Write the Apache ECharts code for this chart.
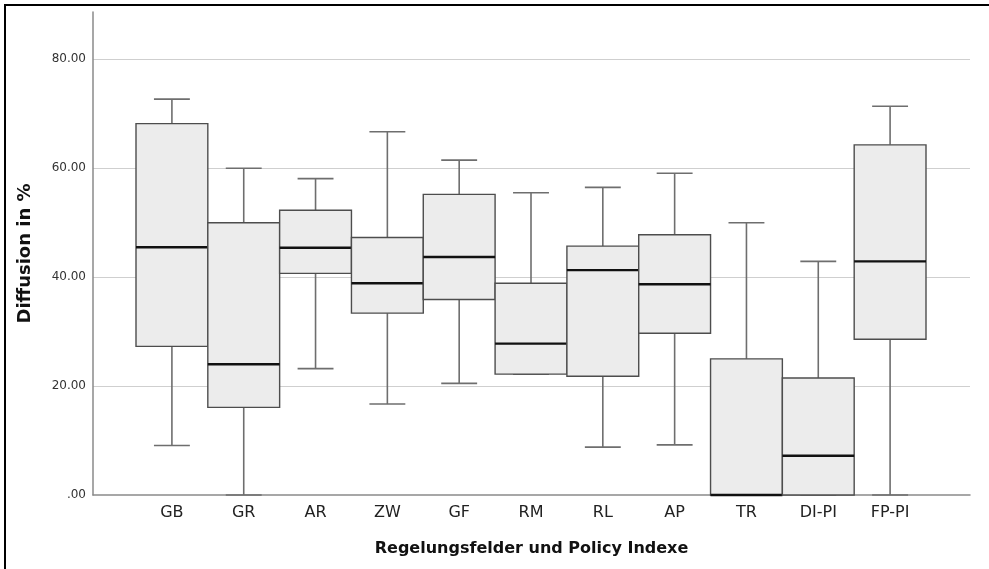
<!DOCTYPE html>
<html>
<head>
<meta charset="utf-8">
<script src="https://cdn.jsdelivr.net/npm/echarts@6/dist/echarts.min.js"></script>
<style>
html,body{margin:0;padding:0;background:#fff;}
#chart{width:989px;height:569px;}
</style>
</head>
<body>
<div id="chart"></div>
<script>
const categories = ['GB','GR','AR','ZW','GF','RM','RL','AP','TR','DI-PI','FP-PI'];
const whiskerLow  = [9.1, 0, 23.2, 16.7, 20.5, 22.2, 8.8, 9.2, 0, 0, 0];
const quartile1   = [27.3, 16.1, 40.7, 33.4, 35.9, 22.2, 21.8, 29.7, 0, 0, 28.6];
const medianVals  = [45.5, 24.0, 45.4, 38.9, 43.7, 27.8, 41.3, 38.7, 0, 7.2, 42.9];
const quartile3   = [68.2, 50.0, 52.3, 47.3, 55.2, 38.9, 45.7, 47.8, 25.0, 21.5, 64.3];
const whiskerHigh = [72.7, 60.0, 58.1, 66.7, 61.5, 55.5, 56.5, 59.1, 50.0, 42.9, 71.4];
const yTicks = [0, 20, 40, 60, 80];

const FONT = 'DejaVu Sans';
const boxData = categories.map((c, i) => [i, whiskerLow[i], quartile1[i], medianVals[i], quartile3[i], whiskerHigh[i]]);

function renderBox(params, api) {
  const i = api.value(0);
  const band = api.size([1, 0])[0];
  const half = band / 2;
  const capHalf = band / 4;
  const pLow = api.coord([i, api.value(1)]);
  const pQ1 = api.coord([i, api.value(2)]);
  const pMed = api.coord([i, api.value(3)]);
  const pQ3 = api.coord([i, api.value(4)]);
  const pHigh = api.coord([i, api.value(5)]);
  const x = pMed[0];
  const whiskerStyle = { stroke: '#6e6e6e', lineWidth: 1.6, fill: null };
  return {
    type: 'group',
    children: [
      { type: 'line', shape: { x1: x, y1: pHigh[1], x2: x, y2: pQ3[1] }, style: whiskerStyle },
      { type: 'line', shape: { x1: x, y1: pQ1[1], x2: x, y2: pLow[1] }, style: whiskerStyle },
      { type: 'line', shape: { x1: x - capHalf, y1: pHigh[1], x2: x + capHalf, y2: pHigh[1] }, style: whiskerStyle },
      { type: 'line', shape: { x1: x - capHalf, y1: pLow[1], x2: x + capHalf, y2: pLow[1] }, style: whiskerStyle },
      { type: 'rect', shape: { x: x - half, y: pQ3[1], width: band, height: pQ1[1] - pQ3[1] },
        style: { fill: '#ececec', stroke: '#4d4d4d', lineWidth: 1.4 } },
      { type: 'line', shape: { x1: x - half, y1: pMed[1], x2: x + half, y2: pMed[1] },
        style: { stroke: '#111111', lineWidth: 2.4 } }
    ]
  };
}

const chart = echarts.init(document.getElementById('chart'), null, { renderer: 'canvas' });
chart.setOption({
  backgroundColor: '#ffffff',
  animation: false,
  textStyle: { fontFamily: FONT },
  graphic: [{
    type: 'rect', z: 100, silent: true,
    shape: { x: 5, y: 5, width: 1200, height: 800 },
    style: { fill: null, stroke: '#000', lineWidth: 2 }
  }],
  grid: [
    { left: 93, right: 19, top: 12, bottom: 74 },
    { left: 136, right: 63, top: 12, bottom: 74 }
  ],
  xAxis: [
    {
      gridIndex: 0, type: 'value', min: 0, max: 1,
      axisLine: { show: true, lineStyle: { color: '#8a8a8a', width: 1.5 } },
      axisTick: { show: false }, axisLabel: { show: false }, splitLine: { show: false },
      name: 'Regelungsfelder und Policy Indexe', nameLocation: 'middle', nameGap: 46,
      nameTextStyle: { fontFamily: FONT, fontWeight: 'bold', fontSize: 16, color: '#111' }
    },
    {
      gridIndex: 1, type: 'category', data: categories, boundaryGap: true,
      axisLine: { show: false }, axisTick: { show: false }, splitLine: { show: false },
      axisLabel: { fontFamily: FONT, fontSize: 16, color: '#222', margin: 10, interval: 0 }
    }
  ],
  yAxis: [
    {
      gridIndex: 0, type: 'value', min: 0, max: 88.7, interval: 20,
      axisLine: { show: true, lineStyle: { color: '#8a8a8a', width: 1.5 } },
      axisTick: { show: false },
      axisLabel: {
        fontFamily: FONT, fontSize: 12, color: '#333', margin: 7, showMaxLabel: false,
        formatter: v => (yTicks.indexOf(v) < 0 ? '' : (v === 0 ? '.00' : v.toFixed(2)))
      },
      splitLine: { show: true, showMinLine: false, showMaxLine: false, lineStyle: { color: '#cfcfcf', width: 1.2 } },
      name: 'Diffusion in %', nameLocation: 'middle', nameGap: 59,
      nameTextStyle: { fontFamily: FONT, fontWeight: 'bold', fontSize: 18, color: '#111' }
    },
    {
      gridIndex: 1, type: 'value', min: 0, max: 88.7, show: false,
      splitLine: { show: false }
    }
  ],
  series: [{
    type: 'custom',
    xAxisIndex: 1, yAxisIndex: 1,
    renderItem: renderBox,
    encode: { x: 0, y: [1, 2, 3, 4, 5] },
    data: boxData,
    z: 5
  }]
});
</script>
</body>
</html>
